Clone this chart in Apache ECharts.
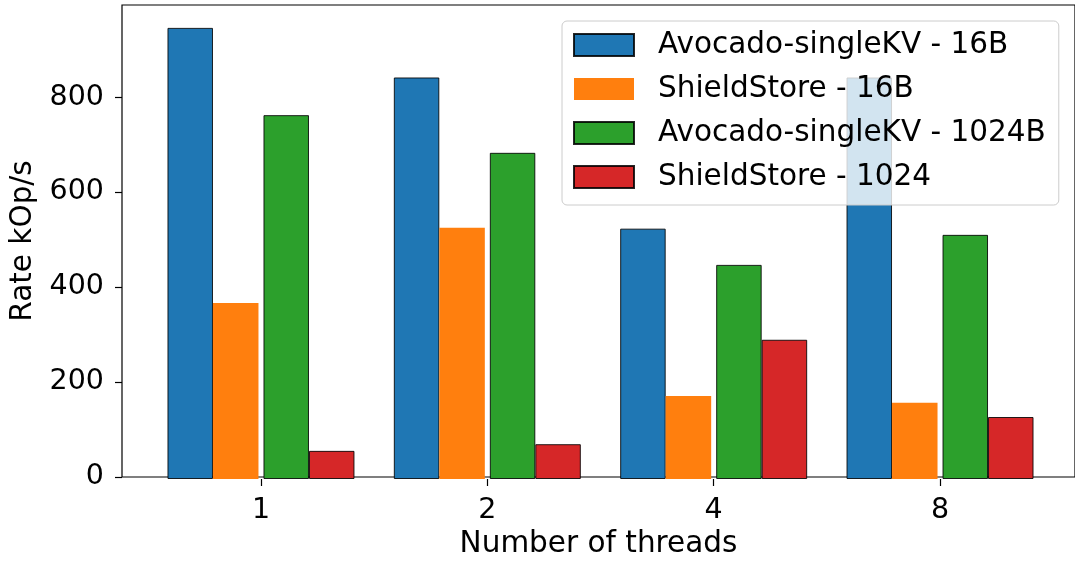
<!DOCTYPE html>
<html>
<head>
<meta charset="utf-8">
<script src="https://cdn.jsdelivr.net/npm/echarts@6/dist/echarts.min.js"></script>
<style>
  html, body { margin: 0; padding: 0; background: #fff; }
  #chart { width: 1075px; height: 564px; }
</style>
</head>
<body>
<div id="chart"></div>
<script>
// Throughput per thread count (kOp/s)
const threads = ['1', '2', '4', '8'];
const avocado16 = [946, 842, 525, 842];
const shield16 = [369, 527, 174, 160];
const avocado1024 = [763, 684, 449, 512];
const shield1024 = [59, 73, 292, 130];
const yTicks = [0, 200, 400, 600, 800];

const FONT = 'DejaVu Sans';
const Y_MAX = 994;
const edge = { borderColor: 'rgba(0,0,0,0.85)', borderWidth: 1 };

function barSeries(name, data, color, withEdge, width) {
  return {
    name: name,
    type: 'bar',
    xAxisIndex: 0,
    yAxisIndex: 0,
    data: data,
    barWidth: width,
    barGap: 0,
    itemStyle: Object.assign({ color: color }, withEdge ? edge : { borderWidth: 0 })
  };
}

const chart = echarts.init(document.getElementById('chart'), null, { renderer: 'canvas' });
chart.setOption({
  animation: false,
  backgroundColor: '#fff',
  textStyle: { fontFamily: FONT },
  grid: [
    // bar area: category bands
    { left: 147.8, right: 21.8, top: 5, bottom: 85, containLabel: false },
    // framed axes area
    { left: 122, right: -2, top: 5, bottom: 85, show: true, borderColor: '#000', borderWidth: 1.2, backgroundColor: 'transparent', containLabel: false }
  ],
  xAxis: [
    {
      type: 'category', gridIndex: 0, data: threads,
      axisLine: { show: false },
      axisTick: { show: true, alignWithLabel: true, length: 7, lineStyle: { color: '#000', width: 1.2 } },
      axisLabel: { color: '#000', fontSize: 28.5, fontFamily: FONT, margin: 17 }
    },
    {
      type: 'value', gridIndex: 1, min: 0, max: 1,
      axisLine: { show: false }, axisTick: { show: false }, axisLabel: { show: false }, splitLine: { show: false },
      name: 'Number of threads', nameLocation: 'middle', nameGap: 52,
      nameTextStyle: { color: '#000', fontSize: 29.5, fontFamily: FONT }
    }
  ],
  yAxis: [
    {
      type: 'value', gridIndex: 0, min: 0, max: Y_MAX,
      axisLine: { show: false }, axisTick: { show: false }, axisLabel: { show: false }, splitLine: { show: false }
    },
    {
      type: 'value', gridIndex: 1, min: 0, max: Y_MAX,
      axisLine: { show: false },
      axisTick: { show: true, length: 7, customValues: yTicks, lineStyle: { color: '#000', width: 1.2 } },
      axisLabel: { color: '#000', fontSize: 28.5, fontFamily: FONT, margin: 18, customValues: yTicks },
      splitLine: { show: false },
      name: 'Rate kOp/s', nameLocation: 'middle', nameGap: 82,
      nameTextStyle: { color: '#000', fontSize: 29.5, fontFamily: FONT }
    }
  ],
  legend: {
    orient: 'vertical',
    left: 562, top: 21,
    data: ['Avocado-singleKV - 16B', 'ShieldStore - 16B', 'Avocado-singleKV - 1024B', 'ShieldStore - 1024'],
    icon: 'rect',
    itemWidth: 60, itemHeight: 22, itemGap: 14,
    padding: [9, 13, 13, 11],
    backgroundColor: 'rgba(255,255,255,0.8)',
    borderColor: '#cccccc', borderWidth: 1, borderRadius: 5,
    textStyle: { color: '#000', fontSize: 29.5, fontFamily: FONT, padding: [0, 0, 0, 19] },
    selectedMode: false
  },
  series: [
    barSeries('Avocado-singleKV - 16B', avocado16, '#1f77b4', true, 45.5),
    barSeries('ShieldStore - 16B', shield16, '#ff7f0e', false, 45.5),
    // spacer column between the two size groups
    barSeries('spacer', [null, null, null, null], 'transparent', false, 5),
    barSeries('Avocado-singleKV - 1024B', avocado1024, '#2ca02c', true, 45.5),
    barSeries('ShieldStore - 1024', shield1024, '#d62728', true, 45.5)
  ]
});
</script>
</body>
</html>
